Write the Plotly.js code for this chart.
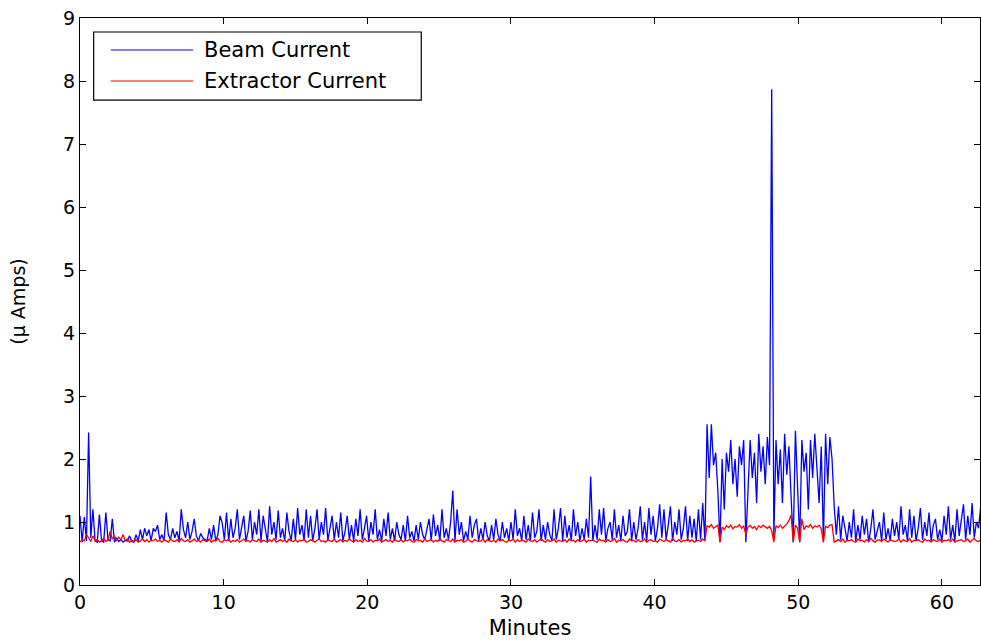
<!DOCTYPE html>
<html>
<head>
<meta charset="utf-8">
<script src="https://cdn.plot.ly/plotly-3.0.1.min.js"></script>
<style>html,body{margin:0;padding:0;background:#fff;}#chart{width:981px;height:641px;}</style>
</head>
<body>
<div id="chart"></div>
<script>
// sampling interval of the recording (minutes)
const sampleMinutes = 0.15;

// Beam current (µA), one value per sample
const beamCurrent = [
1.1,0.68,1.08,0.7,2.42,0.75,1.2,0.7,0.68,1.12,
0.7,0.68,1.15,0.72,0.7,1.05,0.68,0.75,0.69,0.72,
0.68,0.71,0.7,0.78,0.69,0.68,0.8,0.7,0.88,0.72,
0.9,0.78,0.88,0.7,0.9,0.85,0.95,0.72,0.8,0.7,
1.15,0.8,0.72,0.9,0.75,0.85,0.7,1.2,0.88,0.75,
1.0,0.72,0.85,1.05,0.78,0.7,0.82,0.75,0.72,0.7,
0.9,0.72,0.95,0.7,0.8,1.1,0.98,0.72,1.15,0.7,
1.05,0.75,0.9,1.2,0.72,0.95,1.1,0.7,0.85,1.18,
0.72,1.0,0.8,1.2,0.7,1.1,0.9,0.68,1.25,0.8,
1.0,0.72,1.18,0.75,0.9,0.7,1.15,0.85,0.7,1.05,
0.72,1.22,0.8,0.95,0.7,1.2,0.75,1.1,0.7,0.9,
1.2,0.72,1.0,0.8,1.22,0.7,0.9,1.1,0.72,1.0,
0.75,1.15,0.7,0.85,1.1,0.72,0.95,0.7,1.05,0.78,
1.2,0.72,0.9,1.1,0.7,1.0,0.8,1.2,0.72,0.88,
0.7,1.05,0.78,1.15,0.72,0.9,0.7,1.0,0.8,0.72,
0.95,0.7,1.1,0.75,0.85,0.7,0.95,0.72,1.0,0.8,
0.72,0.9,1.05,0.7,1.12,0.78,0.95,0.7,1.2,0.75,
0.9,0.72,1.0,1.5,0.7,1.2,0.8,1.0,0.7,0.85,
0.72,1.1,0.75,0.95,1.05,0.7,0.9,0.72,1.0,0.78,
0.7,0.95,0.72,1.05,0.8,0.7,1.0,0.75,0.9,0.7,
1.0,0.72,1.2,0.78,0.9,0.7,1.1,0.72,0.95,0.7,
1.15,0.75,0.85,1.2,0.7,0.95,0.72,1.0,0.8,0.7,
1.2,0.72,0.9,1.22,0.7,1.1,0.75,0.95,0.7,1.2,
0.78,1.0,0.7,0.9,0.72,1.05,0.75,1.72,0.7,0.95,
0.72,1.2,0.8,1.22,0.7,0.9,1.0,0.72,1.2,0.75,
0.95,0.7,1.1,0.78,0.85,1.2,0.7,1.0,0.72,0.9,
1.25,0.72,1.0,0.7,1.22,0.8,1.1,0.7,0.9,1.28,
0.75,1.2,0.72,0.95,1.25,0.7,1.0,0.8,1.2,0.72,
0.9,1.25,0.7,1.1,0.75,1.05,0.7,1.2,0.72,1.3,
0.7,2.55,1.7,2.55,1.9,2.1,1.5,0.68,2.0,1.2,
2.1,1.8,2.3,1.6,2.0,1.4,2.2,1.9,2.3,0.68,
1.5,2.3,1.7,2.1,1.3,2.4,1.8,2.2,1.6,2.35,
1.9,7.87,0.75,2.3,1.6,2.15,1.3,2.4,1.75,2.2,
1.4,0.68,2.45,1.5,0.68,2.3,1.8,2.1,1.2,2.3,
1.7,2.4,1.9,1.3,2.2,0.68,2.4,1.6,2.35,2.0,
1.25,0.8,1.25,0.72,1.1,0.9,0.7,1.0,0.75,1.2,
0.7,0.95,0.72,1.1,0.8,1.05,0.68,0.9,1.2,0.72,
0.85,1.0,0.7,1.15,0.72,0.9,0.7,1.05,0.78,1.0,
0.72,1.25,0.8,0.95,0.7,1.2,0.75,1.1,0.7,0.9,
1.22,0.72,1.0,0.78,1.15,0.7,0.95,1.05,0.72,0.88,
0.7,1.1,0.8,1.25,0.72,0.95,0.7,1.2,0.78,1.0,
1.28,0.72,1.1,0.8,1.3,0.75,1.0,0.9,1.25
];

// Extractor current (µA), one value per sample
const extractorCurrent = [
0.68,0.72,0.7,0.8,0.75,0.69,0.78,0.7,0.72,0.68,
0.7,0.74,0.69,0.72,0.85,0.73,0.78,0.7,0.76,0.72,
0.8,0.7,0.73,0.68,0.71,0.69,0.72,0.68,0.7,0.73,
0.69,0.72,0.68,0.71,0.7,0.73,0.69,0.71,0.68,0.72,
0.7,0.68,0.73,0.7,0.69,0.72,0.68,0.74,0.7,0.69,
0.72,0.68,0.7,0.73,0.69,0.71,0.68,0.72,0.7,0.69,
0.73,0.68,0.71,0.7,0.74,0.69,0.68,0.72,0.7,0.73,
0.68,0.71,0.69,0.72,0.68,0.7,0.73,0.69,0.71,0.68,
0.72,0.7,0.69,0.73,0.68,0.71,0.7,0.68,0.72,0.69,
0.74,0.68,0.7,0.72,0.69,0.71,0.68,0.73,0.7,0.69,
0.72,0.68,0.71,0.7,0.73,0.68,0.69,0.72,0.7,0.68,
0.71,0.73,0.69,0.7,0.68,0.72,0.7,0.69,0.73,0.68,
0.7,0.72,0.68,0.71,0.69,0.73,0.7,0.68,0.72,0.69,
0.71,0.68,0.74,0.7,0.69,0.72,0.68,0.71,0.7,0.73,
0.68,0.7,0.72,0.69,0.71,0.68,0.73,0.7,0.69,0.72,
0.68,0.71,0.7,0.73,0.69,0.68,0.72,0.7,0.71,0.68,
0.73,0.69,0.7,0.72,0.68,0.71,0.69,0.74,0.7,0.68,
0.72,0.7,0.69,0.73,0.68,0.71,0.7,0.72,0.68,0.69,
0.73,0.7,0.68,0.72,0.71,0.69,0.7,0.73,0.68,0.72,
0.7,0.69,0.71,0.68,0.73,0.7,0.72,0.69,0.68,0.71,
0.7,0.73,0.68,0.72,0.69,0.71,0.7,0.68,0.73,0.7,
0.69,0.72,0.68,0.71,0.74,0.7,0.68,0.72,0.69,0.7,
0.73,0.68,0.71,0.7,0.69,0.72,0.68,0.73,0.7,0.71,
0.68,0.72,0.69,0.7,0.73,0.68,0.71,0.7,0.72,0.69,
0.68,0.73,0.7,0.71,0.68,0.72,0.69,0.7,0.74,0.68,
0.71,0.7,0.72,0.69,0.68,0.73,0.7,0.71,0.68,0.72,
0.69,0.7,0.73,0.68,0.71,0.72,0.69,0.7,0.68,0.73,
0.71,0.69,0.72,0.7,0.68,0.74,0.7,0.69,0.72,0.68,
0.71,0.7,0.73,0.69,0.72,0.68,0.7,0.71,0.69,0.73,
0.7,0.94,0.92,0.96,0.9,0.93,0.95,0.68,0.92,0.88,
0.94,0.91,0.95,0.89,0.93,0.92,0.96,0.9,0.94,0.8,
0.92,0.95,0.9,0.93,0.88,0.94,0.91,0.95,0.92,0.9,
0.93,0.86,0.68,0.94,0.91,0.95,0.9,0.93,0.97,1.02,
1.11,0.68,0.95,0.9,0.68,1.05,0.88,0.94,0.92,0.96,
0.9,0.94,0.92,0.95,0.89,0.68,0.93,0.91,0.95,0.96,
0.68,0.7,0.72,0.69,0.73,0.68,0.71,0.7,0.72,0.69,
0.68,0.73,0.7,0.71,0.68,0.72,0.69,0.74,0.7,0.68,
0.71,0.72,0.69,0.73,0.7,0.68,0.72,0.71,0.69,0.7,
0.73,0.68,0.72,0.7,0.69,0.74,0.68,0.71,0.7,0.72,
0.69,0.68,0.73,0.7,0.71,0.68,0.72,0.7,0.69,0.73,
0.68,0.71,0.7,0.72,0.69,0.73,0.68,0.7,0.71,0.72,
0.69,0.7,0.73,0.68,0.71,0.74,0.7,0.69,0.72
];

// Axis ticks and labels
const xTicks = [0, 10, 20, 30, 40, 50, 60];
const yTicks = [0, 1, 2, 3, 4, 5, 6, 7, 8, 9];
const seriesNames = ['Beam Current', 'Extractor Current'];
const xTitle = 'Minutes';
const yTitle = '(\u03bc Amps)';

const minutes = beamCurrent.map((_, i) => i * sampleMinutes);

const blue = '#0000ff', red = '#ff0000';
const tickFont = {family: 'DejaVu Sans, Arial, sans-serif', size: 19, color: '#000'};

const traces = [
  {x: minutes, y: beamCurrent, type: 'scatter', mode: 'lines', name: seriesNames[0],
   line: {color: blue, width: 1.3}, showlegend: false},
  {x: minutes, y: extractorCurrent, type: 'scatter', mode: 'lines', name: seriesNames[1],
   line: {color: red, width: 1.3}, showlegend: false}
];

// Legend drawn as a boxed key in paper coordinates (long sample lines)
const legBox = {x0: 0.0152, x1: 0.3792, y0: 0.855, y1: 0.9753};
const legRows = [0.9436, 0.8889];
const legColors = [blue, red];
const shapes = [{type: 'rect', xref: 'paper', yref: 'paper', x0: legBox.x0, x1: legBox.x1,
  y0: legBox.y0, y1: legBox.y1, line: {color: '#000', width: 1.2}, fillcolor: '#fff', layer: 'above'}];
const annotations = [];
legRows.forEach((yy, k) => {
  shapes.push({type: 'line', xref: 'paper', yref: 'paper', x0: 0.0341, x1: 0.1257, y0: yy, y1: yy,
    line: {color: legColors[k], width: 1}, layer: 'above'});
  annotations.push({xref: 'paper', yref: 'paper', x: 0.1355, y: yy, xanchor: 'left', yanchor: 'middle',
    text: seriesNames[k], showarrow: false,
    font: {family: 'DejaVu Sans, Arial, sans-serif', size: 21, color: '#000'}});
});

const layout = {
  width: 981, height: 641,
  margin: {l: 80, r: 1, t: 18, b: 56},
  paper_bgcolor: '#fff', plot_bgcolor: '#fff',
  showlegend: false,
  xaxis: {range: [0, 62.65], tickvals: xTicks, ticktext: xTicks.map(String),
    ticks: 'inside', ticklen: 6, tickcolor: '#000', showgrid: false, zeroline: false,
    showline: true, linecolor: '#000', linewidth: 1.2, mirror: 'ticks',
    tickfont: tickFont,
    title: {text: xTitle, font: {family: 'DejaVu Sans, Arial, sans-serif', size: 21, color: '#000'}, standoff: 8}},
  yaxis: {range: [0, 9], tickvals: yTicks, ticktext: yTicks.map(String),
    ticks: 'inside', ticklen: 6, tickcolor: '#000', showgrid: false, zeroline: false,
    showline: true, linecolor: '#000', linewidth: 1.2, mirror: 'ticks',
    tickfont: tickFont,
    title: {text: yTitle, font: {family: 'DejaVu Sans, Arial, sans-serif', size: 19, color: '#000'}, standoff: 32}},
  shapes: shapes,
  annotations: annotations
};

Plotly.newPlot('chart', traces, layout, {staticPlot: true, displayModeBar: false});
</script>
</body>
</html>
